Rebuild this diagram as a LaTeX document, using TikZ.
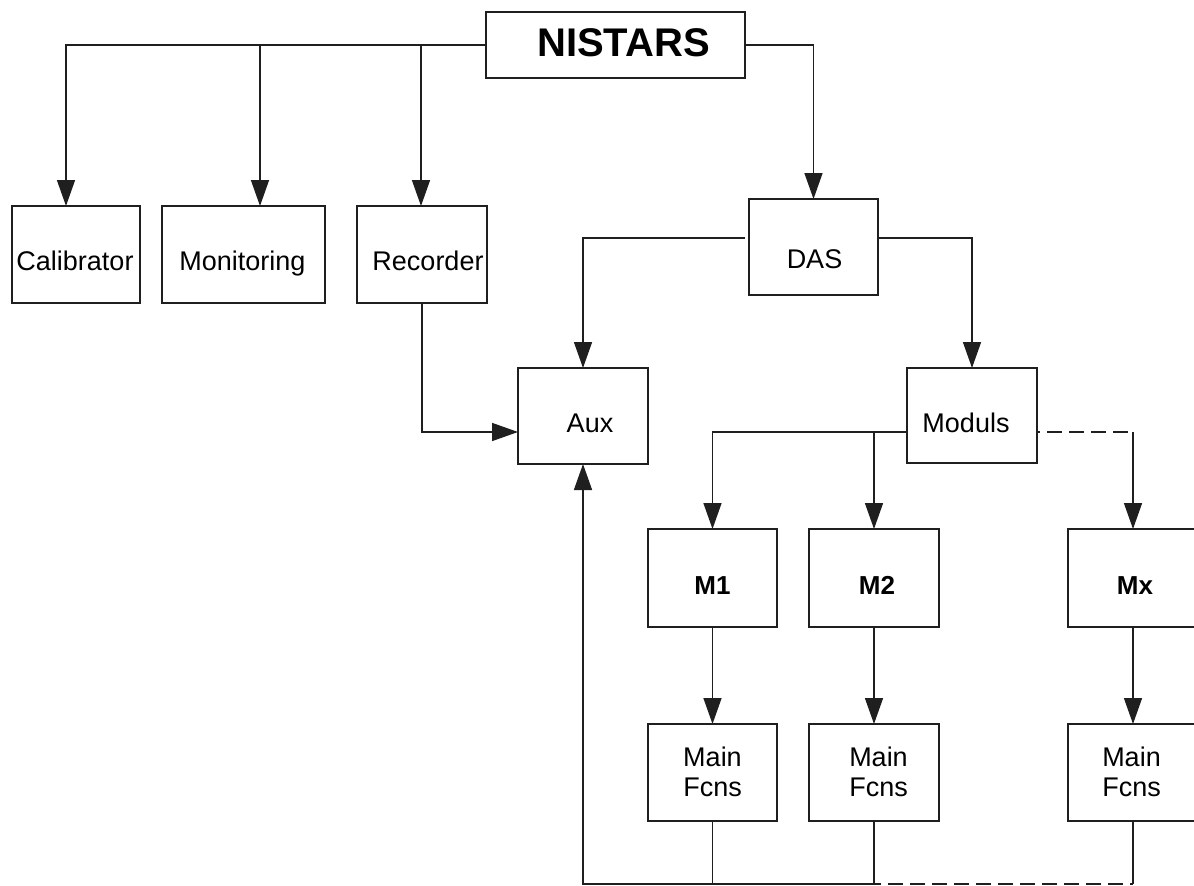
\documentclass[tikz,border=0pt]{standalone}
\usepackage{fontspec}
\setmainfont{Liberation Sans}
\usetikzlibrary{arrows.meta}
\newcommand{\bt}[3]{\raisebox{#2}[0pt][0pt]{\makebox[0pt]{\hspace*{#1}#3}}}
\begin{document}
\begin{tikzpicture}[x=1pt,y=-1pt,
  box/.style={draw=black!88, line width=1.5pt, inner sep=0pt, outer sep=0pt, font=\fontsize{27}{30}\selectfont},
  boldbox/.style={box, font=\bfseries\fontsize{26}{30}\selectfont},
  conn/.style={draw=black!88, line width=1.5pt},
  arr/.style={conn, -{Triangle[length=26pt,width=18pt]}},
  dline/.style={conn, dash pattern=on 15pt off 7pt, dash phase=12pt}]
\useasboundingbox (0,0) rectangle (1194,886);
\clip (0,0) rectangle (1194,886);

% boxes
\node[box, minimum width=259pt, minimum height=66pt, font=\bfseries\fontsize{40}{44}\selectfont] (nistars) at (615.5,45) {\bt{16pt}{-11.8pt}{NISTARS}};
\node[box, minimum width=128pt, minimum height=97pt] (cal) at (76,254.5) {\bt{-2pt}{-15.7pt}{Calibrator}};
\node[box, minimum width=163pt, minimum height=97pt] (mon) at (243.5,254.5) {\bt{-2pt}{-15.7pt}{Monitoring}};
\node[box, minimum width=130pt, minimum height=97pt] (rec) at (422,254.5) {\bt{12pt}{-15.7pt}{Recorder}};
\node[box, minimum width=129pt, minimum height=96pt] (das) at (813.5,247) {\bt{2pt}{-21.2pt}{DAS}};
\node[box, minimum width=130pt, minimum height=96pt] (aux) at (583,416) {\bt{14pt}{-16.7pt}{Aux}};
\node[box, minimum width=130pt, minimum height=95pt] (mod) at (972,415.5) {\bt{-12pt}{-17.2pt}{Moduls}};
\node[boldbox, minimum width=129pt, minimum height=98pt] (m1) at (712.5,578) {\bt{0pt}{-16.8pt}{M1}};
\node[boldbox, minimum width=130pt, minimum height=98pt] (m2) at (874,578) {\bt{6pt}{-16.8pt}{M2}};
\node[boldbox, minimum width=130pt, minimum height=98pt] (mx) at (1133,578) {\bt{4pt}{-16.8pt}{Mx}};
\node[box, minimum width=129pt, minimum height=97pt] (f1) at (712.5,772.5) {\bt{0pt}{6.5pt}{Main}\bt{0pt}{-24pt}{Fcns}};
\node[box, minimum width=130pt, minimum height=97pt] (f2) at (874,772.5) {\bt{9pt}{6.5pt}{Main}\bt{9pt}{-24pt}{Fcns}};
\node[box, minimum width=130pt, minimum height=97pt] (fx) at (1133,772.5) {\bt{-3pt}{6.5pt}{Main}\bt{-3pt}{-24pt}{Fcns}};

% top distribution
\draw[arr] (nistars.west) -| ([xshift=-10pt]cal.north);
\draw[arr] (nistars.west) -| ([xshift=16.5pt]mon.north);
\draw[arr] (nistars.west) -| ([xshift=-1pt]rec.north);
\draw[arr] (nistars.east) -| (das.north);

% DAS branches
\draw[arr] ([shift={(-4,-9)}]das.west) -| (aux.north);
\draw[arr] ([shift={(0,-9)}]das.east) -| (mod.north);

% Recorder to Aux
\draw[arr] (rec.south) |- ([shift={(0,16)}]aux.west);

% Moduls branches
\draw[arr] ([shift={(0,16.5)}]mod.west) -| (m1.north);
\draw[arr] ([shift={(0,16.5)}]mod.west) -| (m2.north);
\coordinate (mxc) at (mx.north |- 0,432);
\draw[dline] ([shift={(0,16.5)}]mod.east) -- (mxc);
\draw[arr] (mxc) -- (mx.north);

% modules to main functions
\draw[arr] (m1.south) -- (f1.north);
\draw[arr] (m2.south) -- (f2.north);
\draw[arr] (mx.south) -- (fx.north);

% feedback bus to Aux
\coordinate (b1) at (f1.south |- 0,884);
\coordinate (b2) at (f2.south |- 0,884);
\coordinate (bx) at (fx.south |- 0,884);
\coordinate (bl) at (aux.south |- 0,884);
\draw[conn] (f1.south) -- (b1);
\draw[arr] (f2.south) -- (b2) -- (bl) -- (aux.south);
\draw[conn] (fx.south) -- (bx);
\draw[dline] (bx) -- (b2);
\end{tikzpicture}
\end{document}
